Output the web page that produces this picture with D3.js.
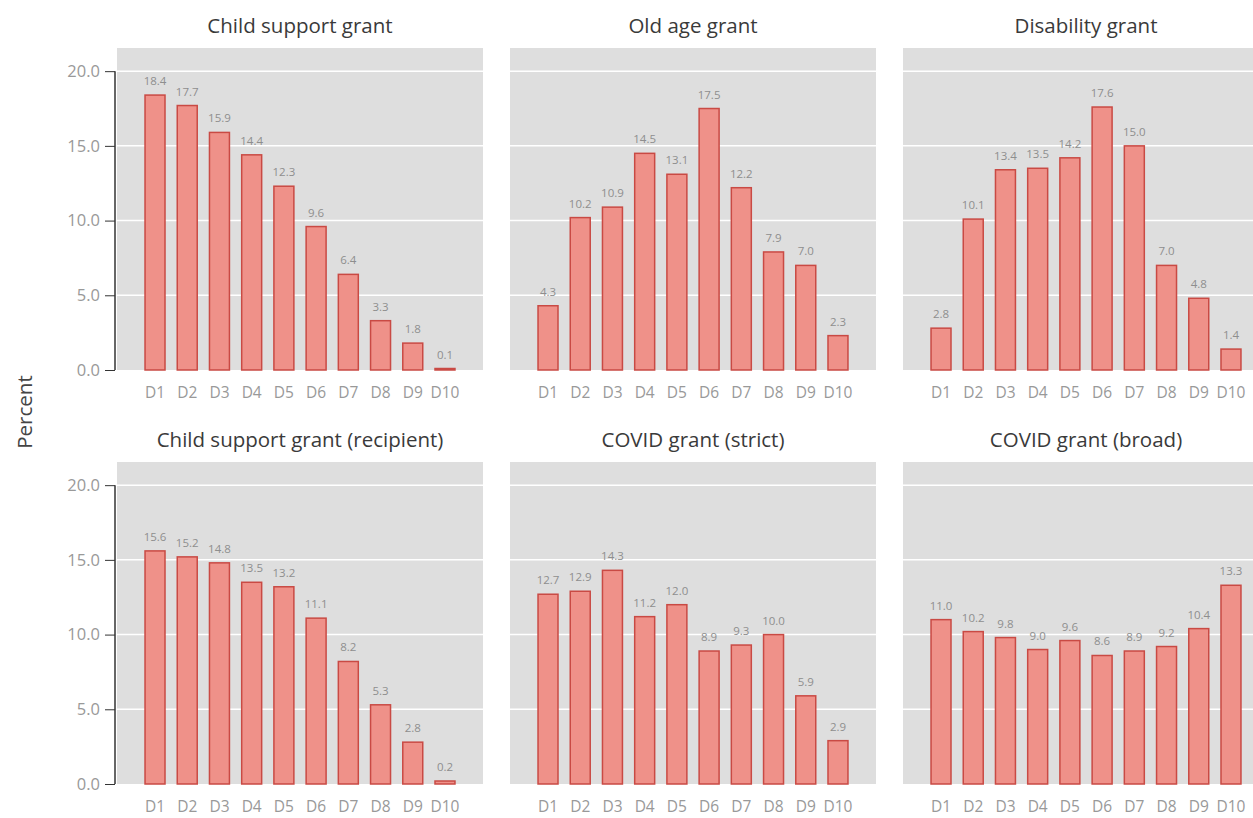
<!DOCTYPE html>
<html>
<head>
<meta charset="utf-8">
<script src="https://cdn.jsdelivr.net/npm/d3@7"></script>
<style>
  body { margin: 0; background: #fff; }
  svg { display: block; font-family: "Open Sans", "Noto Sans", sans-serif; }
</style>
</head>
<body>
<div id="chart"></div>
<script>
var deciles = ["D1", "D2", "D3", "D4", "D5", "D6", "D7", "D8", "D9", "D10"];
var yTicks = [0, 5, 10, 15, 20];
var titles = ["Child support grant", "Old age grant", "Disability grant",
  "Child support grant (recipient)", "COVID grant (strict)", "COVID grant (broad)"];

var childSupport = [18.4, 17.7, 15.9, 14.4, 12.3, 9.6, 6.4, 3.3, 1.8, 0.1];
var oldAge = [4.3, 10.2, 10.9, 14.5, 13.1, 17.5, 12.2, 7.9, 7.0, 2.3];
var disability = [2.8, 10.1, 13.4, 13.5, 14.2, 17.6, 15.0, 7.0, 4.8, 1.4];
var childSupportRecipient = [15.6, 15.2, 14.8, 13.5, 13.2, 11.1, 8.2, 5.3, 2.8, 0.2];
var covidStrict = [12.7, 12.9, 14.3, 11.2, 12.0, 8.9, 9.3, 10.0, 5.9, 2.9];
var covidBroad = [11.0, 10.2, 9.8, 9.0, 9.6, 8.6, 8.9, 9.2, 10.4, 13.3];

var series = [childSupport, oldAge, disability, childSupportRecipient, covidStrict, covidBroad];

var width = 1253, height = 818;
var panelW = 366, panelH = 322;
var colLeft = [117, 510, 903];
var rowTop = [48, 462];

var svg = d3.select("#chart").append("svg")
  .attr("width", width)
  .attr("height", height);

var x = d3.scaleBand()
  .domain(deciles)
  .range([0, panelW])
  .paddingInner(0.38)
  .paddingOuter(0.87);

var y = d3.scaleLinear()
  .domain([0, 21.55])
  .range([panelH, 0]);

var fmt = d3.format(".1f");

series.forEach(function(values, i) {
  var col = i % 3, row = Math.floor(i / 3);
  var g = svg.append("g")
    .attr("transform", "translate(" + colLeft[col] + "," + rowTop[row] + ")");

  g.append("rect")
    .attr("width", panelW)
    .attr("height", panelH)
    .attr("fill", "#dedede");

  g.selectAll(".grid")
    .data(yTicks.filter(function(d) { return d > 0; }))
    .enter().append("line")
    .attr("class", "grid")
    .attr("x1", 0).attr("x2", panelW)
    .attr("y1", function(d) { return y(d); })
    .attr("y2", function(d) { return y(d); })
    .attr("stroke", "#fff")
    .attr("stroke-width", 1.5);

  g.append("text")
    .attr("x", panelW / 2)
    .attr("y", -15)
    .attr("text-anchor", "middle")
    .attr("font-size", 20.5)
    .attr("fill", "#3a3a3a")
    .text(titles[i]);

  g.selectAll(".bar")
    .data(values)
    .enter().append("rect")
    .attr("class", "bar")
    .attr("x", function(d, j) { return x(deciles[j]); })
    .attr("y", function(d) { return y(d); })
    .attr("width", x.bandwidth())
    .attr("height", function(d) { return y(0) - y(d); })
    .attr("fill", "#ef9189")
    .attr("stroke", "#c94a44")
    .attr("stroke-width", 1.5);

  g.selectAll(".val")
    .data(values)
    .enter().append("text")
    .attr("class", "val")
    .attr("x", function(d, j) { return x(deciles[j]) + x.bandwidth() / 2; })
    .attr("y", function(d) { return y(d) - 10; })
    .attr("text-anchor", "middle")
    .attr("font-size", 11.5)
    .attr("fill", "#8e8e8e")
    .text(function(d) { return fmt(d); });

  var xAxis = g.append("g")
    .attr("transform", "translate(0," + panelH + ")")
    .call(d3.axisBottom(x).tickSize(0).tickPadding(17));
  xAxis.select(".domain").remove();
  xAxis.selectAll("text")
    .attr("font-size", 15.5)
    .attr("font-family", "Open Sans")
    .attr("fill", "#999");

  if (col == 0) {
    var yAxis = g.append("g")
      .attr("transform", "translate(-2,0)")
      .call(d3.axisLeft(y).tickValues(yTicks).tickSize(10).tickPadding(5)
        .tickFormat(fmt));
    yAxis.select(".domain")
      .attr("d", "M0," + y(0) + "V" + y(20))
      .attr("stroke", "#333")
      .attr("stroke-width", 1.5);
    yAxis.selectAll(".tick line").attr("stroke", "#333");
    yAxis.selectAll("text")
      .attr("font-size", 16.5)
      .attr("font-family", "Open Sans")
      .attr("fill", "#999");
  }
});

svg.append("text")
  .attr("transform", "translate(32,412) rotate(-90)")
  .attr("text-anchor", "middle")
  .attr("font-size", 20.5)
  .attr("fill", "#444")
  .text("Percent");
</script>
</body>
</html>
